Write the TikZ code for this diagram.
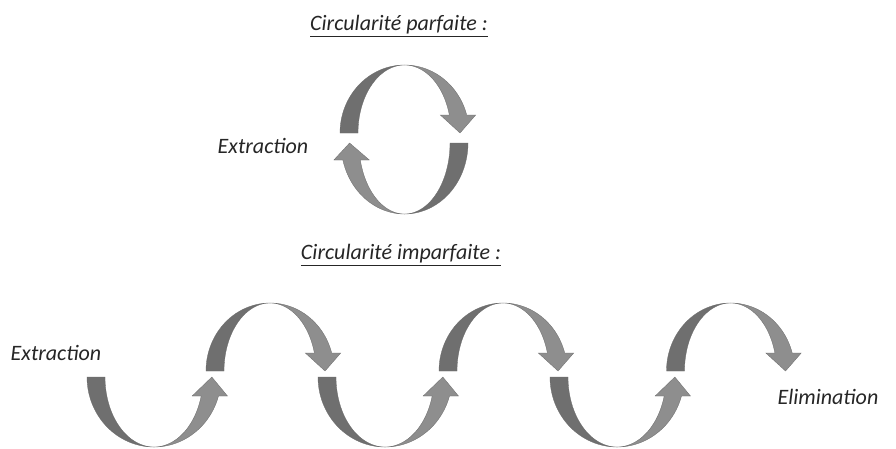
\documentclass[tikz,border=0pt]{standalone}
\usepackage{fontspec}
\setmainfont{Carlito}
\definecolor{arrdark}{HTML}{6F6F6F}
\definecolor{arrlight}{HTML}{8E8E8E}
\definecolor{arredge}{HTML}{6A6A6A}
\tikzset{
  darkarr/.style={fill=arrdark,draw=arredge,line width=0.3pt},
  lightarr/.style={fill=arrlight,draw=arredge,line width=0.3pt},
  lbl/.style={font=\fontsize{22}{24}\selectfont\itshape,inner sep=0pt,text=black!85},
}
% #1 cx, #2 baseline y, #3 outer semi-axis, #4 height, #5 head length, #6 xscale, #7 yscale
\newcommand\carrow[7]{%
\begin{scope}[shift={(#1,#2)},xscale=#6,yscale=#7]
\pgfmathsetmacro\ao{#3}
\pgfmathsetmacro\ain{#3-18}
\pgfmathsetmacro\bb{#4}
\pgfmathsetmacro\hh{#5}
\pgfmathsetmacro\tone{asin(\hh/\bb)}
\pgfmathsetmacro\xo{\ao*cos(\tone)}
\pgfmathsetmacro\xin{\ain*cos(\tone)}
\pgfmathsetmacro\xt{(\xo+\xin)/2+2}
\path[darkarr] (-\ao,0) -- plot[domain=180:90,samples=50,variable=\t] ({\ao*cos(\t)},{\bb*sin(\t)})
  -- plot[domain=90:180,samples=50,variable=\t] ({\ain*cos(\t)},{\bb*sin(\t)}) -- cycle;
\path[lightarr] plot[domain=90:\tone,samples=50,variable=\t] ({\ao*cos(\t)},{\bb*sin(\t)})
  -- (\xo+9,\hh) -- (\xt,0) -- (\xin-9,\hh)
  -- plot[domain=\tone:90,samples=50,variable=\t] ({\ain*cos(\t)},{\bb*sin(\t)}) -- cycle;
\end{scope}}
\begin{document}
\begin{tikzpicture}[x=1pt,y=-1pt]
\useasboundingbox (0,0) rectangle (896,448);
\fill[white] (0,0) rectangle (896,448);
% titles
\node[lbl] (t1) at (399,26) {\underline{Circularité parfaite :}};
\node[lbl] (t2) at (401,255) {\underline{Circularité imparfaite :}};
% perfect circularity
\carrow{404.5}{133}{64.5}{68}{18}{1}{-1}
\carrow{404.5}{143}{63.5}{71}{17}{-1}{1}
\node[lbl] (ex1) at (263,146) {Extraction};
% imperfect circularity
\carrow{154}{377}{67}{70}{19}{1}{1}
\carrow{270}{371}{64}{68}{18}{1}{-1}
\carrow{385}{377}{67}{70}{19}{1}{1}
\carrow{503}{371}{64}{68}{18}{1}{-1}
\carrow{617}{377}{67}{70}{19}{1}{1}
\carrow{730.5}{371}{64}{68}{18}{1}{-1}
\node[lbl] (ex2) at (56,353) {Extraction};
\node[lbl] (el) at (828,397) {Elimination};
\end{tikzpicture}
\end{document}
